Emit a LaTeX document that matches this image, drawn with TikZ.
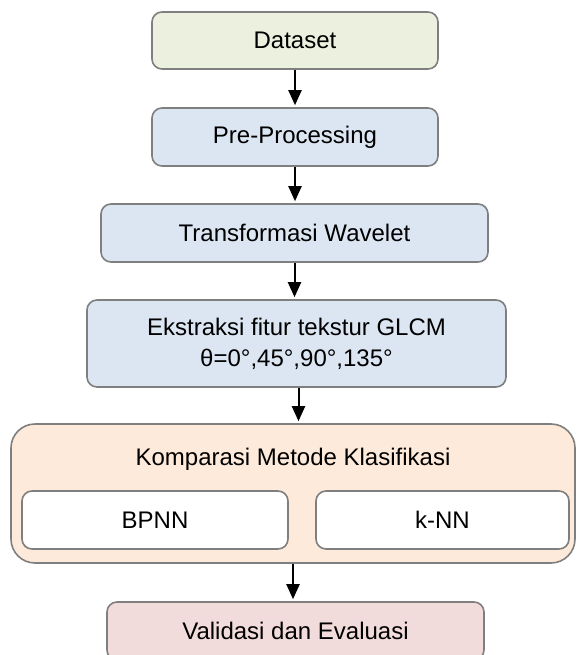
\documentclass[tikz,border=0pt]{standalone}
\usepackage{fontspec}
\setmainfont{Liberation Sans}
\usetikzlibrary{arrows.meta}
\definecolor{cgreen}{HTML}{EBF1DE}
\definecolor{cblue}{HTML}{DCE6F2}
\definecolor{corange}{HTML}{FDEADA}
\definecolor{cred}{HTML}{F2DCDB}
\definecolor{cborder}{HTML}{7F7F7F}
\tikzset{
  box/.style={draw=cborder, line width=1.6pt, rounded corners=10pt, inner sep=0pt,
    font=\fontsize{24pt}{31pt}\selectfont, align=center, text=black},
  arr/.style={line width=2pt, -{Triangle[width=13pt,length=15pt]}, shorten >=2pt},
  lbl/.style={font=\fontsize{24pt}{31pt}\selectfont, text=black, inner sep=0pt}
}
\begin{document}
\begin{tikzpicture}[x=1pt,y=-1pt]
\useasboundingbox (0,0) rectangle (576,655);
\node[box, fill=cgreen, minimum width=286pt, minimum height=57pt] (data) at (295,40.5) {Dataset};
\node[box, fill=cblue, minimum width=286pt, minimum height=58pt] (pre) at (295,137) {Pre-Processing};
\node[box, fill=cblue, minimum width=387pt, minimum height=58pt] (wav) at (294.5,233) {Transformasi Wavelet};
\node[box, fill=cblue, minimum width=419pt, minimum height=87pt] (glcm) at (296.5,343.5) {Ekstraksi fitur tekstur GLCM\\θ=0°,45°,90°,135°};
\node[box, fill=corange, rounded corners=24pt, minimum width=564pt, minimum height=139pt] (komp) at (293,493.5) {};
\node[lbl, anchor=base] (kompt) at (293,465) {Komparasi Metode Klasifikasi};
\node[box, fill=white, minimum width=266pt, minimum height=58pt] (bpnn) at (155,520) {BPNN};
\node[box, fill=white, minimum width=253pt, minimum height=58pt] (knn) at (442.5,520) {k-NN};
\node[box, fill=cred, minimum width=377pt, minimum height=58pt] (val) at (295.5,631) {Validasi dan Evaluasi};
\draw[arr] (data.south) -- (data.south |- pre.north);
\draw[arr] (pre.south) -- (pre.south |- wav.north);
\draw[arr] (wav.south) -- (wav.south |- glcm.north);
\draw[arr] ([xshift=2pt]glcm.south) -- ([xshift=2pt]glcm.south |- komp.north);
\draw[arr] (komp.south) -- (komp.south |- val.north);
\end{tikzpicture}
\end{document}
